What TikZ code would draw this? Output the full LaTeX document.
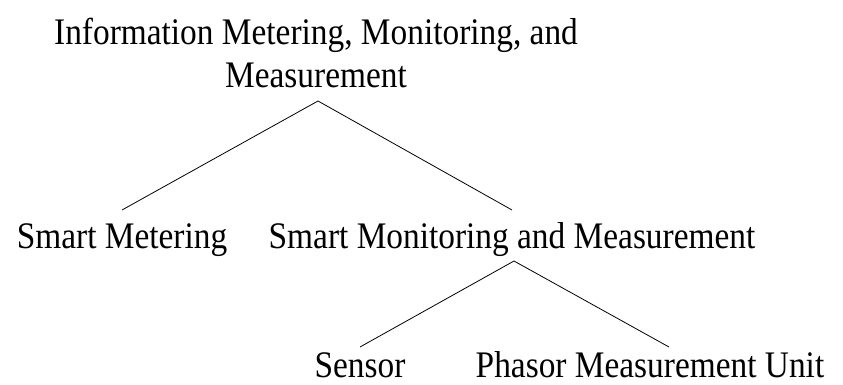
\documentclass[tikz,border=0pt]{standalone}
\usepackage{fontspec}
\setmainfont{Liberation Serif}[FakeStretch=0.89]
\usetikzlibrary{positioning}

\begin{document}
\begin{tikzpicture}[
			x=1pt,y=-1pt,
			treelabel/.style={
				anchor=base,
				inner sep=0pt,
				outer sep=0pt,
				align=center,
				font=\fontsize{37.5}{43}\selectfont
			},
			branch/.style={
				line width=0.8pt,
				black
			}
			]
			\useasboundingbox (0,0) rectangle (843,385);
			\node[treelabel] (root) at (316,88) {
				Information Metering, Monitoring, and\\
				Measurement
			};
			\node[treelabel] (smeter) at (122,248) {Smart Metering};
			\node[treelabel] (smonitor) at (512,248) {Smart Monitoring and Measurement};
			\node[treelabel] (sensor) at (360,377) {Sensor};
			\node[treelabel] (pmu) at (650,377) {Phasor Measurement Unit};
			\coordinate (apexA) at (318,101);
			\coordinate (apexB) at (514,261);
			\draw[branch] (smeter.north |- 0,210) -- (apexA) -- (smonitor.north |- 0,210);
			\draw[branch] (sensor.north |- 0,347) -- (apexB) -- ([xshift=19pt]pmu.north |- 0,347);
		\end{tikzpicture}
\end{document}
